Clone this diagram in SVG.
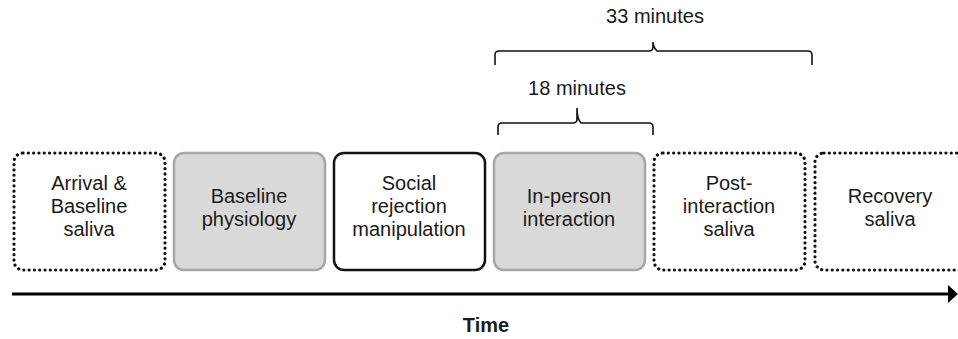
<svg xmlns="http://www.w3.org/2000/svg" width="958" height="339" viewBox="0 0 958 339">
<defs>
<style>
text{font-family:"Liberation Sans",Arial,sans-serif;font-size:20px;fill:#1a1a1a;text-anchor:middle}
.dot{fill:#fff;stroke:#111;stroke-width:3.2;stroke-dasharray:0.1 5.2;stroke-linecap:round}
.gray{fill:#d9d9d9;stroke:#a6a6a6;stroke-width:2.5}
.solid{fill:#fff;stroke:#111;stroke-width:2.5}
.brace{fill:none;stroke:#111;stroke-width:1.6}
</style>
<marker id="ah" markerWidth="10" markerHeight="18" refX="0" refY="9" orient="auto" markerUnits="userSpaceOnUse">
<path d="M0,0 L10,9 L0,18 Z" fill="#000"/>
</marker>
</defs>
<g id="node-arrival"><rect class="dot" x="14" y="153" width="151" height="117" rx="9"/><text x="89" y="190">Arrival &amp;</text><text x="89" y="213">Baseline</text><text x="89" y="236">saliva</text></g>
<g id="node-baseline"><rect class="gray" x="174" y="153" width="151" height="117" rx="10"/><text x="249" y="203">Baseline</text><text x="249" y="226">physiology</text></g>
<g id="node-social"><rect class="solid" x="334" y="153" width="151" height="117" rx="10"/><text x="409" y="190">Social</text><text x="409" y="213">rejection</text><text x="409" y="236">manipulation</text></g>
<g id="node-inperson"><rect class="gray" x="494" y="153" width="151" height="117" rx="10"/><text x="569" y="203">In-person</text><text x="569" y="226">interaction</text></g>
<g id="node-post"><rect class="dot" x="654" y="153" width="151" height="117" rx="9"/><text x="729" y="190">Post-</text><text x="729" y="213">interaction</text><text x="729" y="236">saliva</text></g>
<g id="node-recovery"><rect class="dot" x="815" y="153" width="160" height="117" rx="9"/><text x="890" y="203">Recovery</text><text x="890" y="226">saliva</text></g>
<g id="connectors">
<line x1="12" y1="294" x2="948" y2="294" stroke="#000" stroke-width="3" marker-end="url(#ah)"/>
<path class="brace" d="M498,135 V127 Q498,123 502,123 H573 Q577,123 577,119 V108 Q577,119 581,123 H649 Q653,123 653,127 V135"/>
<path class="brace" d="M495,65 V55 Q495,51 499,51 H649 Q653,51 653,47 V42 Q653,47 657,51 H808 Q812,51 812,55 V65"/>
</g>
<text x="577" y="95">18 minutes</text>
<text x="655" y="23">33 minutes</text>
<text x="486" y="332" style="font-weight:bold">Time</text>
</svg>
